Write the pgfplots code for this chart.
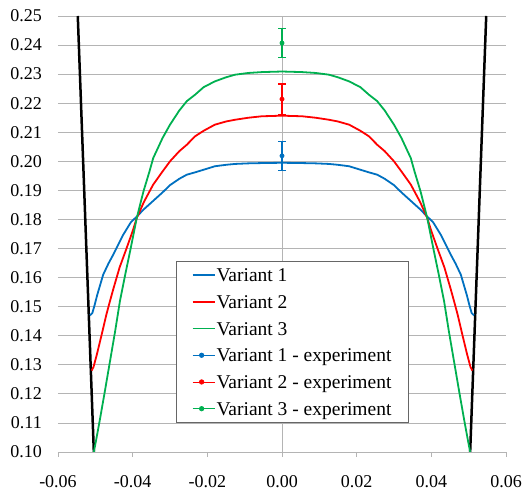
\documentclass[border=0pt]{standalone}
\usepackage{pgfplots}
\pgfplotsset{compat=1.18}
\usepackage{fontspec}
\setmainfont{Liberation Serif}
\definecolor{cblue}{HTML}{0070C0}
\definecolor{cred}{HTML}{FF0000}
\definecolor{cgreen}{HTML}{00B050}
\definecolor{gridgray}{HTML}{B4B4B4}
\pgfplotsset{
  lineleg/.style={legend image code/.code={\draw[##1, line width=1.8pt] (0pt,0pt) -- (22pt,0pt);}},
  dotleg/.style={legend image code/.code={\path (0pt,0pt) -- (22pt,0pt); \draw[mark repeat=1,##1] plot coordinates {(9pt,0pt)};}},
}
\begin{document}
\begin{tikzpicture}
\begin{axis}[
  name=ax,
  scale only axis, width=448pt, height=436pt,
  xmin=-0.06, xmax=0.06, ymin=0.10, ymax=0.25,
  scaled x ticks=false, scaled y ticks=false,
  axis x line*=bottom, axis y line*=left,
  x axis line style={draw=gridgray, line width=0.8pt, -},
  y axis line style={draw=none},
  xtick={-0.06,-0.04,-0.02,0,0.02,0.04,0.06},
  xticklabels={-0.06,-0.04,-0.02,0.00,0.02,0.04,0.06},
  ytick={0.10,0.11,0.12,0.13,0.14,0.15,0.16,0.17,0.18,0.19,0.20,0.21,0.22,0.23,0.24,0.25},
  yticklabels={0.10,0.11,0.12,0.13,0.14,0.15,0.16,0.17,0.18,0.19,0.20,0.21,0.22,0.23,0.24,0.25},
  xtick align=outside, major tick length=5pt,
  xtick style={draw=gridgray, line width=0.8pt},
  ytick style={draw=none},
  ymajorgrids, grid style={draw=gridgray, line width=0.8pt},
  /pgf/number format/assume math mode=true,
  tick label style={font=\fontsize{18pt}{20pt}\selectfont},
  yticklabel style={inner sep=0pt, xshift=-16pt},
  xticklabel style={inner sep=0pt, yshift=-18pt},
  legend style={at={(rel axis cs:0.263,0.438)}, anchor=north west,
    draw=gray!80!black, line width=0.8pt, fill=white,
    font=\fontsize{19.5pt}{22pt}\selectfont,
    cells={anchor=west}, inner xsep=15.5pt, inner ysep=2.3pt,
    column sep=0pt, row sep=3.8pt,
    nodes={inner sep=1pt, text height=16.9pt, text depth=4pt}},
  legend cell align=left,
]
\draw[gridgray, line width=0.8pt] (axis cs:0,0.10) -- (axis cs:0,0.25);
\addplot[black, line width=2.5pt, forget plot] coordinates {(-0.0547,0.25) (-0.0504,0.10)};
\addplot[black, line width=2.5pt, forget plot] coordinates {(0.0547,0.25) (0.0504,0.10)};

\addplot[cblue, line width=1.8pt, lineleg] coordinates {
(-0.0514,0.1470) (-0.0508,0.1478) (-0.0502,0.1505) (-0.0495,0.1540) (-0.0479,0.1610)
(-0.0465,0.1648) (-0.0452,0.1679) (-0.0425,0.1748) (-0.0405,0.1790) (-0.0389,0.1810)
(-0.0370,0.1835) (-0.0345,0.1864) (-0.0320,0.1893) (-0.0300,0.1918) (-0.0275,0.1940)
(-0.0255,0.1954) (-0.0233,0.1962) (-0.0200,0.1975) (-0.0180,0.1983) (-0.0150,0.1988)
(-0.0126,0.1991) (-0.0090,0.1993) (-0.0054,0.1994) (0,0.1995)
(0.0054,0.1994) (0.0090,0.1993) (0.0126,0.1991) (0.0150,0.1988) (0.0180,0.1983)
(0.0200,0.1975) (0.0233,0.1962) (0.0255,0.1954) (0.0275,0.1940) (0.0300,0.1918)
(0.0320,0.1893) (0.0345,0.1864) (0.0370,0.1835) (0.0389,0.1810) (0.0405,0.1790)
(0.0425,0.1748) (0.0452,0.1679) (0.0465,0.1648) (0.0479,0.1610) (0.0495,0.1540)
(0.0502,0.1505) (0.0508,0.1478) (0.0514,0.1470)
};
\addlegendentry{Variant 1}

\addplot[cred, line width=1.8pt, lineleg] coordinates {
(-0.0510,0.1280) (-0.0505,0.1292) (-0.0496,0.1335) (-0.0483,0.1404) (-0.0470,0.1475)
(-0.0461,0.1518) (-0.0452,0.1560) (-0.0435,0.1635) (-0.0416,0.1702) (-0.0400,0.1760)
(-0.0389,0.1805) (-0.0370,0.1860) (-0.0345,0.1920) (-0.0320,0.1965) (-0.0300,0.2000)
(-0.0275,0.2035) (-0.0255,0.2057) (-0.0233,0.2086) (-0.0210,0.2105) (-0.0180,0.2126)
(-0.0150,0.2137) (-0.0126,0.2143) (-0.0090,0.2150) (-0.0054,0.2155) (0,0.2157)
(0.0054,0.2155) (0.0090,0.2150) (0.0126,0.2143) (0.0150,0.2137) (0.0180,0.2126)
(0.0210,0.2105) (0.0233,0.2086) (0.0255,0.2057) (0.0275,0.2035) (0.0300,0.2000)
(0.0320,0.1965) (0.0345,0.1920) (0.0370,0.1860) (0.0389,0.1805) (0.0400,0.1760)
(0.0416,0.1702) (0.0435,0.1635) (0.0452,0.1560) (0.0461,0.1518) (0.0470,0.1475)
(0.0483,0.1404) (0.0496,0.1335) (0.0505,0.1292) (0.0510,0.1280)
};
\addlegendentry{Variant 2}

\addplot[cgreen, line width=1.8pt, lineleg] coordinates {
(-0.0504,0.1000) (-0.0498,0.1040) (-0.0488,0.1110) (-0.0475,0.1205) (-0.0461,0.1310)
(-0.0447,0.1415) (-0.0434,0.1520) (-0.0420,0.1610) (-0.0407,0.1690) (-0.0389,0.1805)
(-0.0371,0.1897) (-0.0355,0.1965) (-0.0345,0.2011) (-0.0320,0.2080) (-0.0300,0.2126)
(-0.0275,0.2175) (-0.0255,0.2207) (-0.0233,0.2229) (-0.0210,0.2255) (-0.0180,0.2275)
(-0.0150,0.2289) (-0.0126,0.2298) (-0.0090,0.2304) (-0.0054,0.2307) (0,0.2309)
(0.0054,0.2307) (0.0090,0.2304) (0.0126,0.2298) (0.0150,0.2289) (0.0180,0.2275)
(0.0210,0.2255) (0.0233,0.2229) (0.0255,0.2207) (0.0275,0.2175) (0.0300,0.2126)
(0.0320,0.2080) (0.0345,0.2011) (0.0355,0.1965) (0.0371,0.1897) (0.0389,0.1805)
(0.0407,0.1690) (0.0420,0.1610) (0.0434,0.1520) (0.0447,0.1415) (0.0461,0.1310)
(0.0475,0.1205) (0.0488,0.1110) (0.0498,0.1040) (0.0504,0.1000)
};
\addlegendentry{Variant 3}

\addplot[cblue, only marks, mark=*, mark size=2.2pt, dotleg,
  error bars/.cd, y dir=both, y explicit,
  error bar style={line width=1.4pt, cblue},
  error mark options={rotate=90, mark size=4pt, line width=1.4pt, cblue}]
  coordinates {(0,0.2019) +- (0,0.0050)};
\addlegendentry{Variant 1 - experiment}

\addplot[cred, only marks, mark=*, mark size=2.2pt, dotleg,
  error bars/.cd, y dir=both, y explicit,
  error bar style={line width=1.4pt, cred},
  error mark options={rotate=90, mark size=4pt, line width=1.4pt, cred}]
  coordinates {(0,0.2214) +- (0,0.0052)};
\addlegendentry{Variant 2 - experiment}

\addplot[cgreen, only marks, mark=*, mark size=2.2pt, dotleg,
  error bars/.cd, y dir=both, y explicit,
  error bar style={line width=1.4pt, cgreen},
  error mark options={rotate=90, mark size=4pt, line width=1.4pt, cgreen}]
  coordinates {(0,0.2407) +- (0,0.0050)};
\addlegendentry{Variant 3 - experiment}
\end{axis}
\path ([shift={(-58pt,-39pt)}]ax.south west) rectangle ([shift={(17pt,16pt)}]ax.north east);
\end{tikzpicture}
\end{document}
